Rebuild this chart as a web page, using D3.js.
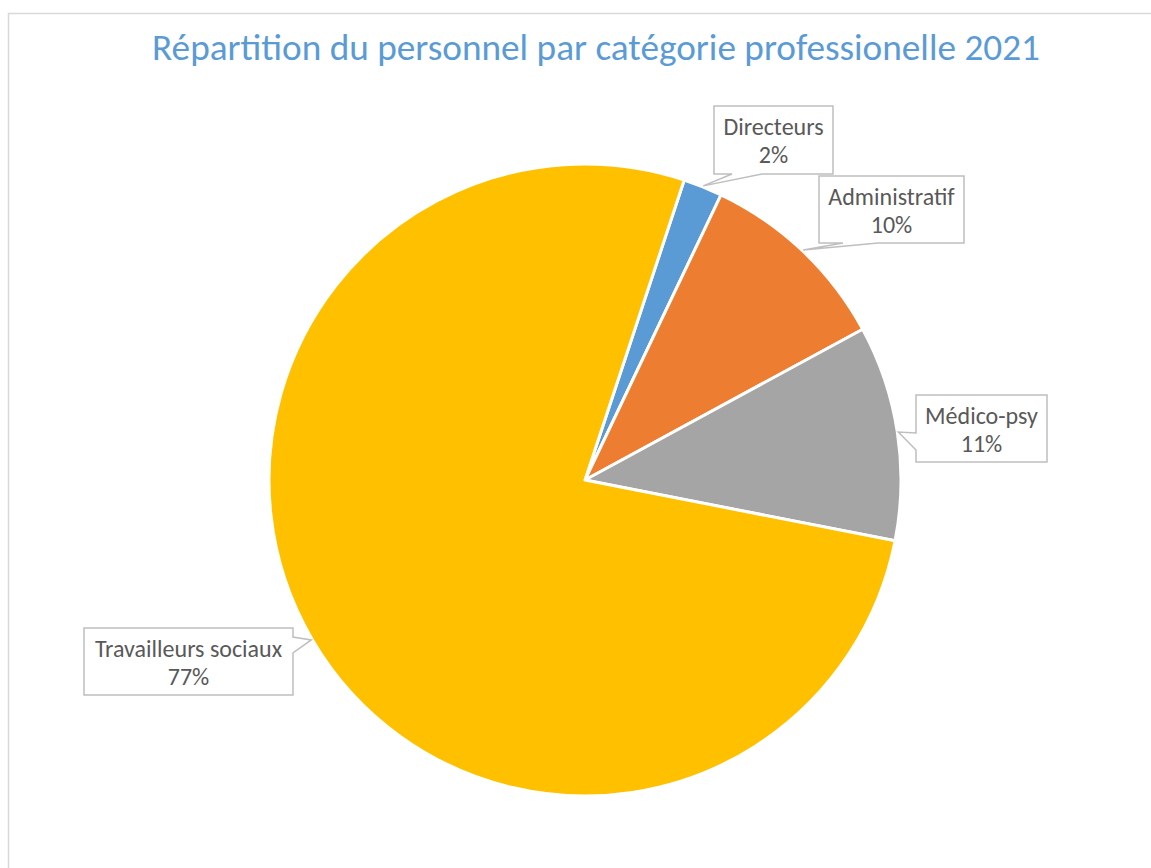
<!DOCTYPE html>
<html>
<head>
<meta charset="utf-8">
<script src="https://cdn.jsdelivr.net/npm/d3@7"></script>
<style>
  html, body { margin: 0; padding: 0; background: #fff; }
  svg { display: block; }
</style>
</head>
<body>
<svg id="chart" width="1151" height="868"></svg>
<script>
const title = "Répartition du personnel par catégorie professionelle 2021";
const categories = ["Directeurs", "Administratif", "Médico-psy", "Travailleurs sociaux"];
const values = [2, 10, 11, 77];
const colors = ["#5B9BD5", "#ED7D31", "#A5A5A5", "#FFC000"];
const firstSliceAngleDeg = 18.3;

const svg = d3.select("#chart");
const W = 1151, H = 868;
const cx = 585, cy = 480, R = 316;
const fontFam = "Carlito, 'Liberation Sans', Arial, sans-serif";

// chart border
svg.append("rect")
  .attr("x", 8.5).attr("y", 13.5)
  .attr("width", W + 20).attr("height", H + 20)
  .attr("fill", "#fff").attr("stroke", "#D9D9D9").attr("stroke-width", 1.5);

// title
const t = svg.append("text")
  .attr("x", 596).attr("y", 60)
  .attr("text-anchor", "middle")
  .attr("font-family", fontFam)
  .attr("font-size", 27)
  .attr("fill", "#5B9BD5")
  .text(title);
const tw = t.node().getComputedTextLength();
if (tw > 0) t.attr("font-size", 27 * 888 / tw);

const pie = d3.pie().sort(null).value(d => d)
  .startAngle(firstSliceAngleDeg * Math.PI / 180)
  .endAngle(firstSliceAngleDeg * Math.PI / 180 + 2 * Math.PI);
const arcs = pie(values);
const arc = d3.arc().innerRadius(0).outerRadius(R);
const tipArc = d3.arc().innerRadius(R + 1).outerRadius(R + 1);

const g = svg.append("g").attr("transform", `translate(${cx},${cy})`);
g.selectAll("path.slice").data(arcs).enter().append("path")
  .attr("class", "slice")
  .attr("d", arc)
  .attr("fill", (d, i) => colors[i])
  .attr("stroke", "#fff")
  .attr("stroke-width", 3)
  .attr("stroke-linejoin", "round");

// callouts layout
const callouts = [
  { box: [714, 106, 119, 68], side: "bottom", base: [732, 762] },
  { box: [819, 176, 145, 67], side: "bottom", base: [843, 878] },
  { box: [916, 395, 131, 67], side: "left", base: [433, 450] },
  { box: [84, 628, 209, 67], side: "right", base: [637, 653] }
];

function calloutPath(c, tip) {
  const [x, y, w, h] = c.box;
  const [a, b] = c.base;
  const pts = [];
  pts.push([x, y]);
  pts.push([x + w, y]);
  if (c.side === "right") { pts.push([x + w, a]); pts.push(tip); pts.push([x + w, b]); }
  pts.push([x + w, y + h]);
  if (c.side === "bottom") { pts.push([b, y + h]); pts.push(tip); pts.push([a, y + h]); }
  pts.push([x, y + h]);
  if (c.side === "left") { pts.push([x, b]); pts.push(tip); pts.push([x, a]); }
  return "M" + pts.map(p => p.join(",")).join("L") + "Z";
}

arcs.forEach((d, i) => {
  const c = callouts[i];
  const ct = tipArc.centroid(d);
  const tip = [cx + ct[0], cy + ct[1]];
  svg.append("path")
    .attr("d", calloutPath(c, tip))
    .attr("fill", "#fff")
    .attr("stroke", "#BFBFBF")
    .attr("stroke-width", 1.5)
    .attr("stroke-linejoin", "miter");
  const [x, y, w, h] = c.box;
  const tx = x + w / 2;
  const lbl = svg.append("text")
    .attr("text-anchor", "middle")
    .attr("font-family", fontFam)
    .attr("font-size", 24)
    .attr("fill", "#595959");
  lbl.append("tspan").attr("x", tx).attr("y", y + 29).text(categories[i]);
  const pct = Math.round(d.value / d3.sum(values) * 100) + "%";
  lbl.append("tspan").attr("x", tx).attr("y", y + 57).text(pct);
});
</script>
</body>
</html>
